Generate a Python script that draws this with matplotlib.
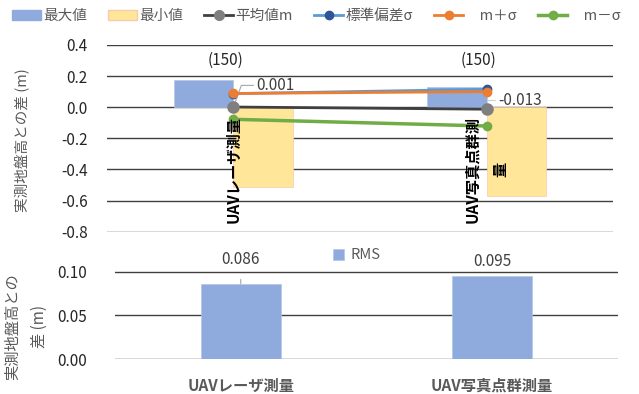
import matplotlib
matplotlib.use("Agg")
import matplotlib.pyplot as plt
from matplotlib.patches import Patch
from matplotlib.lines import Line2D

plt.rcParams['font.family'] = ['Noto Sans CJK JP', 'DejaVu Sans']

# data
categories = ['UAVレーザ測量', 'UAV写真点群測量']
top_labels = ['UAVレーザ測量', 'UAV写真点群測\n量']
max_vals = [0.175, 0.130]
min_vals = [-0.515, -0.568]
mean_vals = [0.001, -0.013]
std_vals = [0.087, 0.115]
m_plus = [0.088, 0.100]
m_minus = [-0.078, -0.121]
counts = [150, 150]
rms_vals = [0.086, 0.095]

c_max = '#8FAADC'
c_min = '#FFE699'
c_mean = '#7F7F7F'
c_std = '#2F5597'
c_std_line = '#5B9BD5'
c_plus = '#ED7D31'
c_minus = '#70AD47'
grid_c = '#3F3F3F'
txt_c = '#404040'
lab_c = '#595959'

x = list(range(len(categories)))
bw = 0.235

fig = plt.figure(figsize=(6.39, 3.94), dpi=100)

# ---- top chart
ax = fig.add_axes([0.1674, 0.412, 0.792, 0.474])
ax.bar([i - bw / 2 for i in x], max_vals, width=bw, color=c_max, edgecolor='#B4C7E7', linewidth=0.5, zorder=2)
ax.bar([i + bw / 2 for i in x], min_vals, width=bw, color=c_min, edgecolor='#F8CBAD', linewidth=0.5, zorder=2)
ax.plot(x, std_vals, color=c_std_line, lw=2, marker='o', ms=6, mfc=c_std, mec=c_std, zorder=3)
ax.plot(x, m_plus, color=c_plus, lw=2, marker='o', ms=6, zorder=4)
ax.plot(x, mean_vals, color='#404040', lw=2, marker='o', ms=8, mfc=c_mean, mec=c_mean, zorder=4)
ax.plot(x, m_minus, color=c_minus, lw=2.5, marker='o', ms=6, zorder=4)

ax.set_xlim(-0.5, 1.5)
ax.set_ylim(-0.8, 0.4)
ax.set_yticks([-0.8, -0.6, -0.4, -0.2, 0.0, 0.2, 0.4])
ax.set_yticklabels(['-0.8', '-0.6', '-0.4', '-0.2', '0.0', '0.2', '0.4'])
ax.set_xticks([])
ax.tick_params(axis='y', length=0, pad=14, labelsize=11, labelcolor='#262626')
ax.grid(axis='y', color=grid_c, lw=1, zorder=0)
ax.set_axisbelow(True)
for s in ax.spines.values():
    s.set_visible(False)

for i in x:
    ax.text(i, -0.055, top_labels[i], rotation=90, ha='center', va='top',
            fontsize=11, fontweight='bold', color='black', multialignment='center',
            linespacing=1.9, zorder=5)
    ax.text(i - 0.03, 0.3, '(%d)' % counts[i], ha='center', va='center', fontsize=11, color='#262626')

ax.annotate('%.3f' % mean_vals[0], xy=(x[0], mean_vals[0]), xytext=(x[0] + 0.09, 0.14),
            ha='left', va='center', fontsize=11, color=txt_c,
            arrowprops=dict(arrowstyle='-', color='#A6A6A6', lw=0.8, shrinkA=0, shrinkB=0,
                            connectionstyle='angle,angleA=0,angleB=70,rad=0'))
ax.annotate('%.3f' % mean_vals[1], xy=(x[1], mean_vals[1]), xytext=(x[1] + 0.045, 0.045),
            ha='left', va='center', fontsize=11, color=txt_c,
            arrowprops=dict(arrowstyle='-', color='#D0D0D0', lw=0.8, shrinkA=0, shrinkB=0,
                            connectionstyle='angle,angleA=0,angleB=90,rad=0'))

fig.text(22 / 639, 1 - 140 / 394, '実測地盤高との差 (m)', rotation=90, ha='center', va='center',
         fontsize=10.5, color=lab_c)

handles = [
    Patch(facecolor=c_max, edgecolor=c_max),
    Patch(facecolor=c_min, edgecolor='#F8CBAD'),
    Line2D([], [], color='#404040', lw=2, marker='o', ms=7, mfc=c_mean, mec=c_mean),
    Line2D([], [], color=c_std_line, lw=2, marker='o', ms=6, mfc=c_std, mec=c_std),
    Line2D([], [], color=c_plus, lw=2, marker='o', ms=6),
    Line2D([], [], color=c_minus, lw=2.5, marker='o', ms=6),
]
labels = ['最大値', '最小値', '平均値m', '標準偏差σ', '　m＋σ', '　m－σ']
leg = fig.legend(handles, labels, loc='upper center', bbox_to_anchor=(0.495, 1.01), ncol=6,
                 frameon=False, fontsize=10.5, handlelength=2.0, handletextpad=0.15,
                 columnspacing=1.45)
for t in leg.get_texts():
    t.set_color(lab_c)

# ---- bottom chart (RMS)
ax2 = fig.add_axes([0.18, 0.0881, 0.787, 0.278])
bars = ax2.bar(x, rms_vals, width=0.32, color=c_max, edgecolor='#B4C7E7', linewidth=0.5, zorder=2, label='RMS')
ax2.set_xlim(-0.5, 1.5)
ax2.set_ylim(0, 0.125)
ax2.set_yticks([0.0, 0.05, 0.10])
ax2.set_yticklabels(['0.00', '0.05', '0.10'])
ax2.set_xticks(x)
ax2.set_xticklabels(categories, fontsize=11, fontweight='bold', color=lab_c)
ax2.tick_params(axis='x', length=0, pad=13)
ax2.tick_params(axis='y', length=0, pad=20, labelsize=11, labelcolor='#262626')
ax2.grid(axis='y', color=grid_c, lw=1, zorder=0)
ax2.set_axisbelow(True)
for s in ax2.spines.values():
    s.set_visible(False)

ax2.annotate('%.3f' % rms_vals[0], xy=(x[0], rms_vals[0]), xytext=(x[0], 0.1135),
             ha='center', va='center', fontsize=11, color=txt_c,
             arrowprops=dict(arrowstyle='-', color='#A6A6A6', lw=0.8, shrinkA=6, shrinkB=0))
ax2.text(x[1], 0.1115, '%.3f' % rms_vals[1], ha='center', va='center', fontsize=11, color=txt_c)

leg2 = ax2.legend(loc='center', bbox_to_anchor=(0.48, 0.95), frameon=False, fontsize=10.5,
                  handlelength=0.8, handleheight=0.8, handletextpad=0.4)
for t in leg2.get_texts():
    t.set_color(lab_c)

fig.text(26 / 639, 1 - 327 / 394, '実測地盤高との\n差 (m)', rotation=90, ha='center', va='center',
         fontsize=11, color=lab_c, multialignment='center', linespacing=1.7)

fig.savefig('out.png', dpi=100)
